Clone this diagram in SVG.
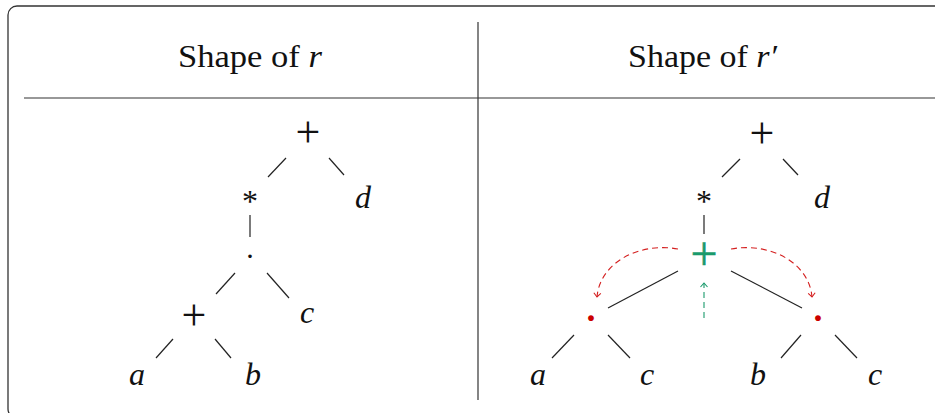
<svg xmlns="http://www.w3.org/2000/svg" width="935" height="413" viewBox="0 0 935 413">
<style>
.frame{fill:none;stroke:#333;stroke-width:1.3}
.rule{stroke:#333;stroke-width:1.2}
.hdr{font-family:"Liberation Serif",serif;font-size:31px;fill:#111}
.m{font-family:"Liberation Serif",serif;font-style:italic;font-size:32px;fill:#111;text-anchor:middle}
.op{font-family:"Liberation Serif",serif;font-size:44px;fill:#111;text-anchor:middle}
.ast{font-family:"Liberation Serif",serif;font-size:32px;fill:#111;text-anchor:middle}
.dot{font-family:"Liberation Serif",serif;font-size:30px;fill:#111;text-anchor:middle}
.rdot{fill:#cc0000;font-size:36px}
.edge{stroke:#222;stroke-width:1.2;fill:none}
.red{stroke:#d42020;stroke-width:1.1;fill:none;stroke-dasharray:6 4}
.grn{stroke:#1a9a6c;stroke-width:1.1;fill:none;stroke-dasharray:6 4}
.gplus{font-family:"Liberation Serif",serif;font-size:48px;fill:#1a9a6c;stroke:#1a9a6c;stroke-width:0.5;text-anchor:middle}
</style>
<defs>
<marker id="ar" markerWidth="10" markerHeight="10" refX="0" refY="0" viewBox="-6 -5 8 10" orient="auto" markerUnits="userSpaceOnUse">
<path d="M-4,-3.5 L0,0 L-4,3.5" fill="none" stroke="#d42020" stroke-width="1.1"/>
</marker>
<marker id="ag" markerWidth="10" markerHeight="10" refX="0" refY="0" viewBox="-6 -5 8 10" orient="auto" markerUnits="userSpaceOnUse">
<path d="M-4,-3.5 L0,0 L-4,3.5" fill="none" stroke="#1a9a6c" stroke-width="1.1"/>
</marker>
</defs>
<rect class="frame" x="8" y="6" width="945" height="412" rx="9"/>
<line class="rule" x1="478" y1="22" x2="478" y2="400"/>
<line class="rule" x1="24" y1="98" x2="935" y2="98"/>
<g id="header-left"><text class="hdr" x="178" y="67" textLength="144" lengthAdjust="spacingAndGlyphs">Shape of <tspan font-style="italic">r</tspan></text></g>
<g id="header-right"><text class="hdr" x="628" y="67" textLength="149" lengthAdjust="spacingAndGlyphs">Shape of <tspan font-style="italic">r′</tspan></text></g>

<g id="connectors">
<line class="edge" x1="286" y1="158" x2="268" y2="177"/>
<line class="edge" x1="329" y1="158" x2="344" y2="175"/>
<line class="edge" x1="250" y1="215" x2="250" y2="237"/>
<line class="edge" x1="235" y1="273" x2="216" y2="294"/>
<line class="edge" x1="267" y1="273" x2="289" y2="298"/>
<line class="edge" x1="173" y1="339" x2="156" y2="358"/>
<line class="edge" x1="215" y1="339" x2="231" y2="358"/>

<line class="edge" x1="740" y1="159" x2="722" y2="177"/>
<line class="edge" x1="783" y1="159" x2="798" y2="175"/>
<line class="edge" x1="704" y1="215" x2="704" y2="234"/>
<line class="edge" x1="678" y1="271" x2="608" y2="308"/>
<line class="edge" x1="731" y1="271" x2="802" y2="308"/>
<line class="edge" x1="574" y1="335" x2="552" y2="358"/>
<line class="edge" x1="608" y1="335" x2="630" y2="358"/>
<line class="edge" x1="801" y1="335" x2="781" y2="358"/>
<line class="edge" x1="835" y1="335" x2="857" y2="358"/>
<path class="red" d="M678,249 C640,242 600,262 597,297" marker-end="url(#ar)"/>
<path class="red" d="M731,249 C769,242 809,262 812,297" marker-end="url(#ar)"/>
<path class="grn" d="M704,318 L704,283" marker-end="url(#ag)"/>
</g>

<g id="l-plus"><text class="op" x="308" y="147">+</text></g>
<g id="l-star"><text class="ast" x="250" y="212">*</text></g>
<g id="l-d"><text class="m" x="363" y="208">d</text></g>
<g id="l-cdot"><text class="dot" x="250" y="266">·</text></g>
<g id="l-plus2"><text class="op" x="194" y="330">+</text></g>
<g id="l-c"><text class="m" x="307" y="323">c</text></g>
<g id="l-a"><text class="m" x="137" y="385">a</text></g>
<g id="l-b"><text class="m" x="253" y="385">b</text></g>

<g id="r-plus"><text class="op" x="762" y="148">+</text></g>
<g id="r-star"><text class="ast" x="704" y="212">*</text></g>
<g id="r-d"><text class="m" x="822" y="208">d</text></g>
<g id="r-gplus"><text class="gplus" x="704" y="270">+</text></g>
<g id="r-cdot1"><text class="dot rdot" x="591" y="330" font-weight="bold">·</text></g>
<g id="r-cdot2"><text class="dot rdot" x="818" y="330" font-weight="bold">·</text></g>
<g id="r-a"><text class="m" x="538" y="385">a</text></g>
<g id="r-c1"><text class="m" x="647" y="385">c</text></g>
<g id="r-b"><text class="m" x="758" y="385">b</text></g>
<g id="r-c2"><text class="m" x="875" y="385">c</text></g>
</svg>
